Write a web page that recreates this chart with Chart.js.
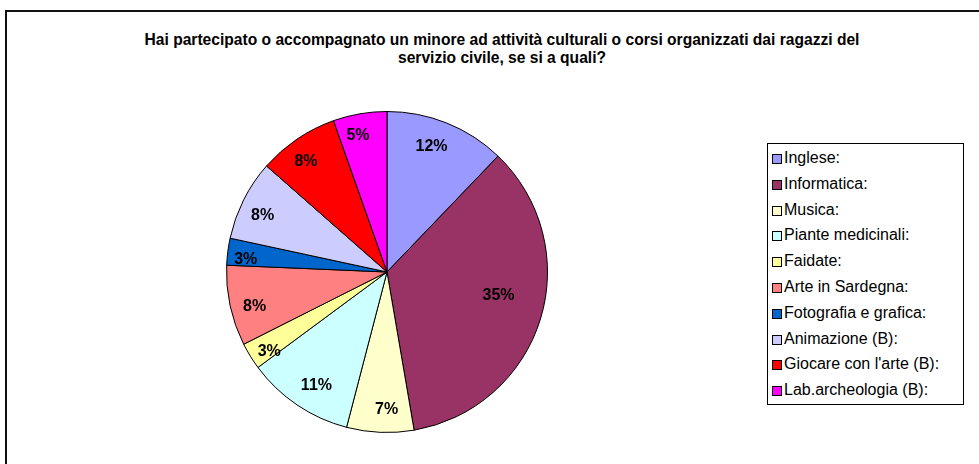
<!DOCTYPE html>
<html>
<head>
<meta charset="utf-8">
<script src="https://cdn.jsdelivr.net/npm/chart.js@4"></script>
<style>
  html, body { margin: 0; padding: 0; background: #fff; }
  #wrap { position: relative; width: 979px; height: 464px; overflow: hidden; background: #fff; font-family: "Liberation Sans", Arial, sans-serif; }
  #frame { position: absolute; left: 5px; top: 10px; width: 1000px; height: 500px; border-top: 2px solid #111; border-left: 2px solid #111; box-sizing: border-box; }
  #title { position: absolute; left: 52px; width: 900px; top: 31px; text-align: center; font-weight: bold; font-size: 15.6px; line-height: 18px; color: #000; }
  #legend { position: absolute; left: 767px; top: 143px; width: 197px; height: 262px; border: 1px solid #000; box-sizing: border-box; background: #fff; }
  .item { position: absolute; left: 4px; height: 22px; font-size: 16px; color: #000; white-space: nowrap; }
  .sw { position: absolute; left: 0; top: 5px; width: 8px; height: 8px; border: 1px solid #000; }
  .txt { position: absolute; left: 12px; top: 0px; line-height: 18px; }
  canvas { position: absolute; left: 0; top: 0; }
</style>
</head>
<body>
<div id="wrap">
  <div id="frame"></div>
  <div id="title">Hai partecipato o accompagnato un minore ad attività culturali o corsi organizzati dai ragazzi del<br>servizio civile, se si a quali?</div>
  <canvas id="c" width="979" height="464"></canvas>
  <div id="legend"></div>
</div>
<script>
// Categories and values (counts)
const categories = [
  "Inglese:", "Informatica:", "Musica:", "Piante medicinali:", "Faidate:",
  "Arte in Sardegna:", "Fotografia e grafica:", "Animazione (B):",
  "Giocare con l'arte (B):", "Lab.archeologia (B):"
];
const values = [9, 26, 5, 8, 2, 6, 2, 6, 6, 4];
const colors = [
  "#9999FF", "#993366", "#FFFFCC", "#CCFFFF", "#FFFF99",
  "#FF8080", "#0066CC", "#CCCCFF", "#FF0000", "#FF00FF"
];

const total = values.reduce((a, b) => a + b, 0);

const pctLabels = {
  id: 'pctLabels',
  afterDatasetsDraw(chart) {
    const ctx = chart.ctx;
    const meta = chart.getDatasetMeta(0);
    ctx.save();
    ctx.font = "bold 16px 'Liberation Sans', Arial, sans-serif";
    ctx.fillStyle = "#000";
    ctx.textAlign = "center";
    ctx.textBaseline = "middle";
    meta.data.forEach((arc, i) => {
      const p = arc.getProps(['x', 'y', 'startAngle', 'endAngle', 'outerRadius'], true);
      const share = values[i] / total;
      let mid = (p.startAngle + p.endAngle) / 2;
      mid -= share > 0.2 ? 0.09 : 0.04;
      const f = share > 0.2 ? 0.71 : 0.9 - 0.6 * share;
      const r = p.outerRadius * f;
      const x = p.x + Math.cos(mid) * r;
      const y = p.y + Math.sin(mid) * r;
      ctx.fillText(Math.round(share * 100) + "%", x, y);
    });
    ctx.restore();
  }
};

new Chart(document.getElementById('c'), {
  type: 'pie',
  data: {
    labels: categories,
    datasets: [{
      data: values,
      backgroundColor: colors,
      borderColor: "#000",
      borderWidth: 1
    }]
  },
  options: {
    responsive: false,
    animation: false,
    layout: { padding: { left: 226, right: 431, top: 111, bottom: 31 } },
    plugins: {
      legend: { display: false },
      title: { display: false },
      tooltip: { enabled: false }
    }
  },
  plugins: [pctLabels]
});

// Legend built from the same arrays
const legend = document.getElementById('legend');
categories.forEach((name, i) => {
  const it = document.createElement('div');
  it.className = 'item';
  it.style.top = (5 + i * 25.8) + 'px';
  const sw = document.createElement('div');
  sw.className = 'sw';
  sw.style.background = colors[i];
  const t = document.createElement('span');
  t.className = 'txt';
  t.textContent = name;
  it.appendChild(sw);
  it.appendChild(t);
  legend.appendChild(it);
});
</script>
</body>
</html>
